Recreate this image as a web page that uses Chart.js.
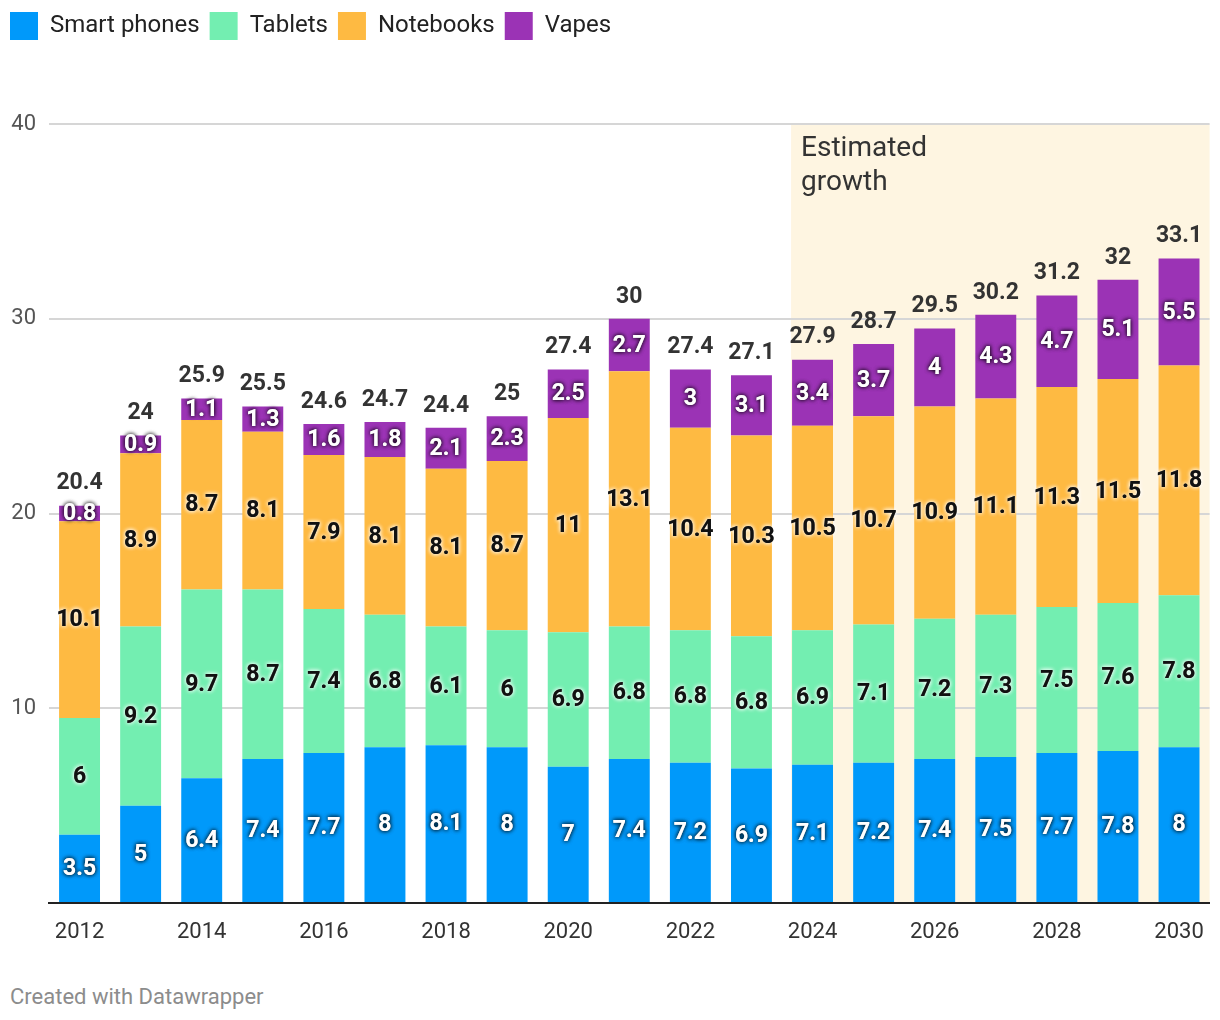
<!DOCTYPE html>
<html lang="en">
<head>
    <meta charset="UTF-8">
    <title>Devices stacked bars</title>
    <script src="https://cdn.jsdelivr.net/npm/chart.js"></script>
    <style>
        * { margin: 0; padding: 0; box-sizing: border-box; }
        body { background: #fff; font-family: Roboto, Arial, sans-serif; width: 1220px; }
        .wrap { position: relative; width: 1220px; height: 960px; }
        .footer { color: #8c8c8c; font-size: 22px; padding: 24px 0 0 10px; }
    </style>
</head>
<body>
    <div class="wrap"><canvas id="chart"></canvas></div>
    <div class="footer">Created with Datawrapper</div>

    <script>
        // values
        const years = ['2012','2013','2014','2015','2016','2017','2018','2019','2020','2021',
                       '2022','2023','2024','2025','2026','2027','2028','2029','2030'];
        const smartPhones = [3.5, 5, 6.4, 7.4, 7.7, 8, 8.1, 8, 7, 7.4, 7.2, 6.9, 7.1, 7.2, 7.4, 7.5, 7.7, 7.8, 8];
        const tablets = [6, 9.2, 9.7, 8.7, 7.4, 6.8, 6.1, 6, 6.9, 6.8, 6.8, 6.8, 6.9, 7.1, 7.2, 7.3, 7.5, 7.6, 7.8];
        const notebooks = [10.1, 8.9, 8.7, 8.1, 7.9, 8.1, 8.1, 8.7, 11, 13.1, 10.4, 10.3, 10.5, 10.7, 10.9, 11.1, 11.3, 11.5, 11.8];
        const vapes = [0.8, 0.9, 1.1, 1.3, 1.6, 1.8, 2.1, 2.3, 2.5, 2.7, 3, 3.1, 3.4, 3.7, 4, 4.3, 4.7, 5.1, 5.5];
        const totals = [20.4, 24, 25.9, 25.5, 24.6, 24.7, 24.4, 25, 27.4, 30, 27.4, 27.1, 27.9, 28.7, 29.5, 30.2, 31.2, 32, 33.1];
        const yTicks = [0, 10, 20, 30, 40];
        const estimateStart = 12; // index of 2024

        const font = 'Roboto, Arial, sans-serif';

        // light band + note behind the forecast years
        const estimateBand = {
            id: 'estimateBand',
            beforeDraw(chart) {
                const ctx = chart.ctx;
                const area = chart.chartArea;
                const bar = chart.getDatasetMeta(0).data[estimateStart];
                const x0 = bar.x - bar.width / 2 - 1;
                ctx.save();
                ctx.fillStyle = '#fef5e1';
                ctx.fillRect(x0, area.top, area.right - x0, area.bottom - area.top);
                ctx.fillStyle = '#333';
                ctx.font = '28px ' + font;
                ctx.textBaseline = 'alphabetic';
                ctx.fillText('Estimated', x0 + 10, 156);
                ctx.fillText('growth', x0 + 10, 190);
                ctx.restore();
            }
        };

        // value labels inside segments and totals above stacks
        const whiteText = [true, false, false, true];
        const valueLabels = {
            id: 'valueLabels',
            afterDatasetsDraw(chart) {
                const ctx = chart.ctx;
                ctx.save();
                ctx.textAlign = 'center';
                ctx.textBaseline = 'middle';
                ctx.font = 'bold 23px ' + font;
                chart.data.datasets.forEach((ds, i) => {
                    chart.getDatasetMeta(i).data.forEach((bar, j) => {
                        const cy = (bar.y + bar.base) / 2 + 1;
                        const txt = String(ds.data[j]);
                        if (whiteText[i]) {
                            ctx.shadowColor = 'rgba(0,0,0,0.75)';
                            ctx.shadowBlur = 4;
                            ctx.fillStyle = '#fff';
                        } else {
                            ctx.shadowColor = 'rgba(255,255,255,0.95)';
                            ctx.shadowBlur = 4;
                            ctx.fillStyle = '#111';
                        }
                        ctx.fillText(txt, bar.x, cy);
                        ctx.fillText(txt, bar.x, cy);
                    });
                });
                ctx.shadowBlur = 0;
                ctx.shadowColor = 'transparent';
                ctx.fillStyle = '#333';
                ctx.font = 'bold 23px ' + font;
                const top = chart.getDatasetMeta(3).data;
                top.forEach((bar, j) => {
                    ctx.fillText(String(totals[j]), bar.x, bar.y - 22);
                });
                ctx.restore();
            }
        };

        // make legend take the room above the plot
        const legendSpace = {
            id: 'legendSpace',
            beforeInit(chart) {
                const fit = chart.legend.fit;
                chart.legend.fit = function () {
                    fit.call(this);
                    this.height = 122;
                };
            }
        };

        const mkSet = (label, data, color) => ({
            label: label,
            data: data,
            backgroundColor: color,
            borderWidth: 0,
            barPercentage: 0.67,
            categoryPercentage: 1
        });

        new Chart(document.getElementById('chart'), {
            type: 'bar',
            data: {
                labels: years,
                datasets: [
                    mkSet('Smart phones', smartPhones, '#0099fa'),
                    mkSet('Tablets', tablets, '#73eeb1'),
                    mkSet('Notebooks', notebooks, '#feba42'),
                    mkSet('Vapes', vapes, '#9b33b5')
                ]
            },
            options: {
                responsive: true,
                maintainAspectRatio: false,
                animation: false,
                layout: { padding: { top: 2, right: 9, left: 0, bottom: 0 } },
                scales: {
                    x: {
                        stacked: true,
                        grid: { display: false, drawTicks: false },
                        border: { display: true, color: '#222', width: 2 },
                        ticks: {
                            autoSkip: false,
                            maxRotation: 0,
                            padding: 16,
                            color: '#333',
                            font: { family: font, size: 22 },
                            callback: (v, i) => (i % 2 === 0 ? years[i] : '')
                        },
                        afterFit: s => { s.height = 57; }
                    },
                    y: {
                        stacked: true,
                        min: yTicks[0],
                        max: yTicks[yTicks.length - 1],
                        afterBuildTicks: s => { s.ticks = yTicks.map(v => ({ value: v })); },
                        grid: { color: '#d6d6d6', lineWidth: 2, drawTicks: false },
                        border: { display: false },
                        ticks: {
                            padding: 13,
                            color: '#555',
                            font: { family: font, size: 22 },
                            callback: v => (v === 0 ? '' : v)
                        },
                        afterFit: s => { s.width = 49; }
                    }
                },
                plugins: {
                    legend: {
                        position: 'top',
                        align: 'start',
                        labels: {
                            boxWidth: 28,
                            boxHeight: 28,
                            padding: 10,
                            color: '#222',
                            font: { family: font, size: 24 }
                        }
                    },
                    tooltip: { enabled: false }
                }
            },
            plugins: [legendSpace, estimateBand, valueLabels]
        });
    </script>
</body>
</html>
